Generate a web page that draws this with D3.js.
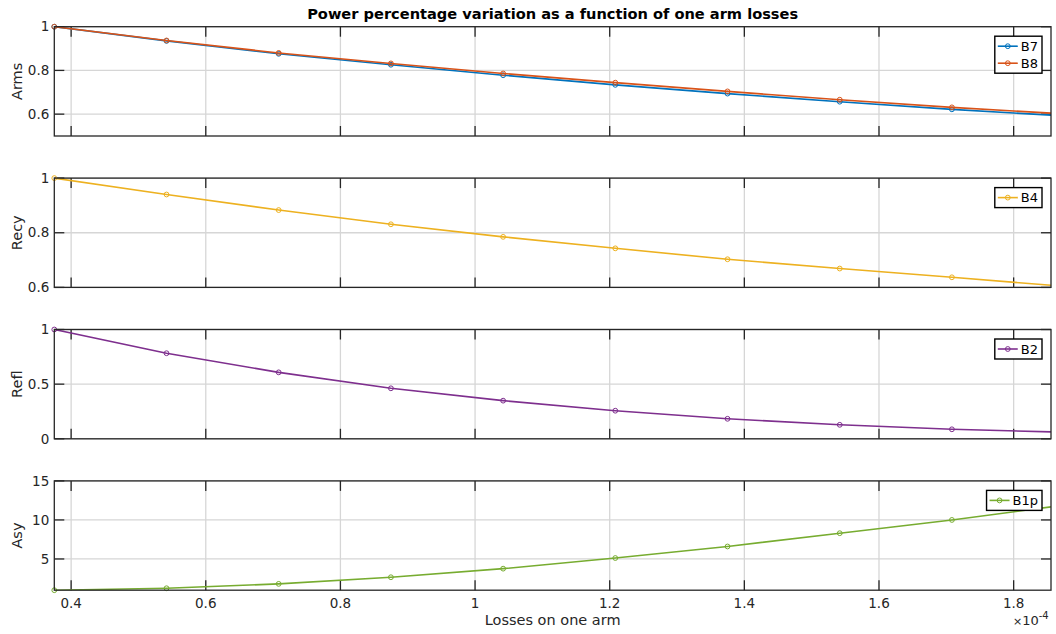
<!DOCTYPE html>
<html>
<head>
<meta charset="utf-8">
<script src="https://cdn.jsdelivr.net/npm/d3@7"></script>
<style>
  html, body { margin: 0; padding: 0; background: #fff; }
  svg { display: block; font-family: "DejaVu Sans", sans-serif; }
</style>
</head>
<body>
<svg id="chart" width="1056" height="634"></svg>
<script>
// Losses on one arm (units of 1e-4)
const losses = [0.375, 0.5417, 0.7083, 0.875, 1.0417, 1.2083, 1.375, 1.5417, 1.7083, 1.875];

// Normalised power per port
const armsB7 = [1, 0.935, 0.876, 0.826, 0.778, 0.734, 0.694, 0.657, 0.622, 0.592];
const armsB8 = [1, 0.937, 0.880, 0.832, 0.786, 0.744, 0.704, 0.666, 0.631, 0.601];
const recyB4 = [1, 0.940, 0.883, 0.831, 0.785, 0.743, 0.703, 0.669, 0.637, 0.604];
const reflB2 = [1, 0.783, 0.608, 0.462, 0.349, 0.257, 0.183, 0.128, 0.087, 0.060];
const asyB1p = [1, 1.25, 1.81, 2.66, 3.76, 5.12, 6.60, 8.30, 10.0, 11.9];

const xTicks = [0.4, 0.6, 0.8, 1.0, 1.2, 1.4, 1.6, 1.8];
const xTickLabels = ["0.4", "0.6", "0.8", "1", "1.2", "1.4", "1.6", "1.8"];

const panels = [
  { ylabel: "Arms", domain: [0.5, 1], ticks: [0.6, 0.8, 1], tickLabels: ["0.6", "0.8", "1"],
    series: [{ name: "B7", values: armsB7, color: "#0072BD" }, { name: "B8", values: armsB8, color: "#D95319" }] },
  { ylabel: "Recy", domain: [0.6, 1], ticks: [0.6, 0.8, 1], tickLabels: ["0.6", "0.8", "1"],
    series: [{ name: "B4", values: recyB4, color: "#EDB120" }] },
  { ylabel: "Refl", domain: [0, 1], ticks: [0, 0.5, 1], tickLabels: ["0", "0.5", "1"],
    series: [{ name: "B2", values: reflB2, color: "#7E2F8E" }] },
  { ylabel: "Asy", domain: [1, 15], ticks: [5, 10, 15], tickLabels: ["5", "10", "15"],
    series: [{ name: "B1p", values: asyB1p, color: "#77AC30" }] }
];

const svg = d3.select("#chart");
const left = 54.3, right = 1051;
const top0 = 26.7, step = 151.4, panelH = 109.3;
const axisColor = "#262626", gridColor = "#d6d6d6";
const tickLen = 10;

const x = d3.scaleLinear().domain([0.375, 1.8555]).range([left, right]);
const xMin = x.domain()[0], xMax = x.domain()[1];

// Title
svg.append("text")
  .attr("x", (left + right) / 2).attr("y", 19)
  .attr("text-anchor", "middle")
  .attr("font-size", 14.6).attr("font-weight", "bold").attr("fill", "#000")
  .text("Power percentage variation as a function of one arm losses");

panels.forEach((p, i) => {
  const top = top0 + i * step, bottom = top + panelH;
  const y = d3.scaleLinear().domain(p.domain).range([bottom, top]);
  const g = svg.append("g");

  const clipId = "clip" + i;
  svg.append("clipPath").attr("id", clipId)
    .append("rect").attr("x", left).attr("y", top).attr("width", right - left).attr("height", panelH);

  // grid
  g.append("g").selectAll("line").data(xTicks).join("line")
    .attr("x1", d => x(d)).attr("x2", d => x(d)).attr("y1", top).attr("y2", bottom)
    .attr("stroke", gridColor).attr("stroke-width", 1.3);
  g.append("g").selectAll("line").data(p.ticks).join("line")
    .attr("x1", left).attr("x2", right).attr("y1", d => y(d)).attr("y2", d => y(d))
    .attr("stroke", gridColor).attr("stroke-width", 1.3);

  // ticks on all four sides (pointing inward)
  const tk = g.append("g").attr("stroke", axisColor).attr("stroke-width", 1.3);
  xTicks.forEach(t => {
    tk.append("line").attr("x1", x(t)).attr("x2", x(t)).attr("y1", bottom).attr("y2", bottom - tickLen);
    tk.append("line").attr("x1", x(t)).attr("x2", x(t)).attr("y1", top).attr("y2", top + tickLen);
  });
  p.ticks.forEach(t => {
    tk.append("line").attr("x1", left).attr("x2", left + tickLen).attr("y1", y(t)).attr("y2", y(t));
    tk.append("line").attr("x1", right).attr("x2", right - tickLen).attr("y1", y(t)).attr("y2", y(t));
  });

  // y tick labels
  g.append("g").selectAll("text").data(p.ticks).join("text")
    .attr("x", left - 5).attr("y", d => y(d)).attr("dy", "0.35em")
    .attr("text-anchor", "end").attr("font-size", 13.5).attr("fill", axisColor)
    .text((d, k) => p.tickLabels[k]);

  // y label
  g.append("text")
    .attr("transform", `translate(22,${(top + bottom) / 2}) rotate(-90)`)
    .attr("text-anchor", "middle").attr("font-size", 14.5).attr("fill", axisColor)
    .text(p.ylabel);

  // series
  const line = d3.line().x((d, k) => x(losses[k])).y(d => y(d));
  p.series.forEach(s => {
    g.append("path").datum(s.values)
      .attr("clip-path", `url(#${clipId})`)
      .attr("d", line).attr("fill", "none")
      .attr("stroke", s.color).attr("stroke-width", 1.6);
    const pts = s.values.map((v, k) => ({ xv: losses[k], v }))
      .filter(d => d.xv >= xMin && d.xv <= xMax);
    g.append("g").selectAll("circle").data(pts).join("circle")
      .attr("cx", d => x(d.xv)).attr("cy", d => y(d.v)).attr("r", 2.4)
      .attr("fill", "none").attr("stroke", s.color).attr("stroke-width", 1);
  });

  // axes box
  g.append("rect").attr("x", left).attr("y", top).attr("width", right - left).attr("height", panelH)
    .attr("fill", "none").attr("stroke", axisColor).attr("stroke-width", 1.3);

  // legend
  const rowH = 17, lineLen = 20;
  const lg = svg.append("g");
  const texts = p.series.map((s, k) => lg.append("text")
    .attr("font-size", 13).attr("fill", "#000").text(s.name));
  const tw = d3.max(texts, t => t.node().getComputedTextLength());
  const boxW = 3 + lineLen + 3 + tw + 4;
  const boxH = p.series.length * rowH + 3;
  const bx = 1042 - boxW, by = top + 9.5;
  lg.insert("rect", ":first-child")
    .attr("x", bx).attr("y", by).attr("width", boxW).attr("height", boxH)
    .attr("fill", "#fff").attr("stroke", "#000").attr("stroke-width", 1.4);
  p.series.forEach((s, k) => {
    const cy = by + 1.5 + rowH * (k + 0.5);
    lg.append("line").attr("x1", bx + 3).attr("x2", bx + 3 + lineLen).attr("y1", cy).attr("y2", cy)
      .attr("stroke", s.color).attr("stroke-width", 1.6);
    lg.append("circle").attr("cx", bx + 3 + lineLen / 2).attr("cy", cy).attr("r", 2.4)
      .attr("fill", "none").attr("stroke", s.color).attr("stroke-width", 1);
    texts[k].attr("x", bx + 3 + lineLen + 3).attr("y", cy).attr("dy", "0.36em").raise();
  });

  // x tick labels only on the bottom panel
  if (i === panels.length - 1) {
    g.append("g").selectAll("text").data(xTicks).join("text")
      .attr("x", d => x(d)).attr("y", bottom + 18)
      .attr("text-anchor", "middle").attr("font-size", 13.5).attr("fill", axisColor)
      .text((d, k) => xTickLabels[k]);
    g.append("text")
      .attr("x", (left + right) / 2).attr("y", bottom + 35)
      .attr("text-anchor", "middle").attr("font-size", 14.5).attr("fill", axisColor)
      .text("Losses on one arm");
    const ex = g.append("text")
      .attr("x", 1013).attr("y", bottom + 35).attr("font-size", 13).attr("fill", axisColor);
    ex.append("tspan").attr("font-size", 11).text("×");
    ex.append("tspan").text("10");
    ex.append("tspan").attr("font-size", 10).attr("dy", -6).text("-4");
  }
});
</script>
</body>
</html>
